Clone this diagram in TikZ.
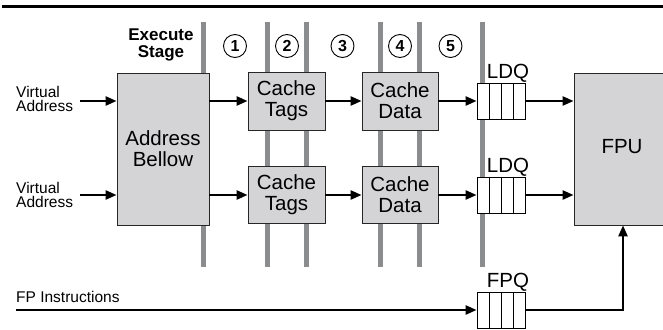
\documentclass[tikz,border=0pt]{standalone}
\usepackage{fontspec}
\setmainfont{Liberation Sans}
\usetikzlibrary{arrows.meta,calc}
\definecolor{boxgray}{RGB}{212,212,214}
\definecolor{bargray}{RGB}{138,140,142}
\pgfdeclarelayer{bg}
\pgfsetlayers{bg,main}
\tikzset{
    unit/.style={draw=black!85, line width=.8pt, fill=boxgray, inner sep=0pt,
        align=center, font=\fontsize{20.5}{21}\selectfont},
    queue/.style={draw, line width=.8pt, fill=white, inner sep=0pt,
        minimum width=48pt, minimum height=36pt,
        path picture={\foreach \k in {1,2,3}
            \draw[line width=.6pt]
              ($(path picture bounding box.north west)!\k/4!(path picture bounding box.north east)$)
              -- ($(path picture bounding box.south west)!\k/4!(path picture bounding box.south east)$);}},
    qlab/.style={inner sep=0pt, xshift=7pt, font=\fontsize{20.5}{21}\selectfont},
    stagenum/.style={circle, draw, line width=.9pt, minimum size=23pt, inner sep=0pt,
        font=\fontsize{16}{16}\bfseries\selectfont},
    small/.style={align=left, inner sep=0pt, font=\fontsize{15.5}{14}\selectfont},
    latch/.style={bargray, line width=5pt},
    arr/.style={line width=2.4pt, -{Triangle[length=11pt,width=9pt]}}
}
\begin{document}
\begin{tikzpicture}[x=1pt, y=-1pt]
  \useasboundingbox (0,0) rectangle (663,329);
  \draw[line width=3pt] (2,6.5) -- (663,6.5);

  \node (exec) [font=\fontsize{17}{16.5}\bfseries\selectfont, align=center, inner sep=0pt]
    at (161,45) {Execute\\Stage};
  \foreach \n/\x in {1/235,2/287,3/342.5,4/400,5/450.5}
    \node (n\n) [stagenum] at (\x,46) {\n};

  \node (addr) [unit, minimum width=92pt, minimum height=152pt] at (163,149) {Address\\Bellow};
  \node (tag1) [unit, minimum width=77pt, minimum height=58pt] at (286.5,101) {Cache\\Tags};
  \node (dat1) [unit, minimum width=76pt, minimum height=58pt] at (400,101) {Cache\\Data};
  \node (tag2) [unit, minimum width=77pt, minimum height=57pt] at (286.5,195) {Cache\\Tags};
  \node (dat2) [unit, minimum width=76pt, minimum height=57pt] at (400,195) {Cache\\Data};
  \node (fpu)  [unit, minimum width=96pt, minimum height=152pt] at (622,149) {\raisebox{6pt}{FPU}};

  \node (ldq1) [queue, label={[qlab]above:LDQ}] at (501,101) {};
  \node (ldq2) [queue, label={[qlab]above:LDQ}] at (501,195) {};
  \node (fpq)  [queue, label={[qlab]above:FPQ}] at (501,310) {};

  \node (va1) [small, anchor=west] at (16,99) {Virtual\\Address};
  \node (va2) [small, anchor=west] at (16,195) {Virtual\\Address};
  \node (fpi) [small, anchor=west] at (16,297) {FP Instructions};
  \coordinate (fpin) at (16,310);
  \coordinate (bend) at (623,310);

  \begin{pgfonlayer}{bg}
    \foreach \x in {203,267,306,380,419,482}
      \draw[latch] (\x,22) -- (\x,267);
  \end{pgfonlayer}

  % upper path
  \draw[arr] ([xshift=7pt]va1.east |- tag1) -- (addr.west |- tag1);
  \draw[arr] (addr.east |- tag1) -- (tag1);
  \draw[arr] (tag1) -- (dat1);
  \draw[arr] (dat1) -- (ldq1);
  \draw[arr] (ldq1) -- (ldq1 -| fpu.west);

  % lower path
  \draw[arr] ([xshift=7pt]va2.east |- tag2) -- (addr.west |- tag2);
  \draw[arr] (addr.east |- tag2) -- (tag2);
  \draw[arr] (tag2) -- (dat2);
  \draw[arr] (dat2) -- (ldq2);
  \draw[arr] (ldq2) -- (ldq2 -| fpu.west);

  % fp instructions
  \draw[arr] (fpin) -- (fpq);
  \draw[arr] (fpq) -- (bend) -- (bend |- fpu.south);
\end{tikzpicture}
\end{document}
